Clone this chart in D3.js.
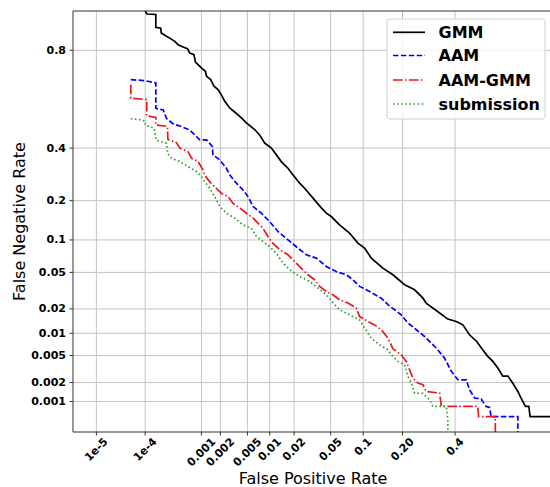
<!DOCTYPE html>
<html><head><meta charset="utf-8">
<script src="https://cdn.jsdelivr.net/npm/d3@7"></script>
<style>body{margin:0;background:#fff}svg{display:block}</style>
</head><body>
<svg id="c" width="550" height="487"></svg>
<script>
// ---- data (FPR, FNR) ----
const seriesNames = ["GMM", "AAM", "AAM-GMM", "submission"];
const gmm = [[1.0e-4,0.90],[1.08e-4,0.894],[1.59e-4,0.893],[1.59e-4,0.864],[1.96e-4,0.862],[2.0e-4,0.850],[2.33e-4,0.844],[2.86e-4,0.836],[3.52e-4,0.827],[4.02e-4,0.817],[4.9e-4,0.810],[5.85e-4,0.805],[6.38e-4,0.791],[7.53e-4,0.786],[7.96e-4,0.761],[8.79e-4,0.752],[1.025e-3,0.738],[1.16e-3,0.728],[1.21e-3,0.709],[1.41e-3,0.696],[1.59e-3,0.670],[1.84e-3,0.656],[2.08e-3,0.633],[2.33e-3,0.607],[2.77e-3,0.578],[3.28e-3,0.560],[4.11e-3,0.534],[4.84e-3,0.512],[6.3e-3,0.482],[7.36e-3,0.458],[8.58e-3,0.422],[0.0105,0.400],[0.01218,0.371],[0.0140,0.343],[0.0169,0.316],[0.0194,0.290],[0.0232,0.259],[0.0264,0.241],[0.0327,0.208],[0.0401,0.178],[0.0452,0.163],[0.0507,0.154],[0.0611,0.133],[0.0758,0.114],[0.0901,0.094],[0.1029,0.0848],[0.117,0.0688],[0.1443,0.0551],[0.1713,0.0473],[0.2067,0.0373],[0.240,0.0329],[0.270,0.0266],[0.282,0.0234],[0.335,0.0179],[0.369,0.0151],[0.405,0.0141],[0.434,0.0128],[0.463,0.00955],[0.4956,0.0078],[0.522,0.00604],[0.5446,0.00487],[0.567,0.00413],[0.589,0.00331],[0.610,0.00251],[0.632,0.00251],[0.652,0.00197],[0.673,0.00145],[0.686,0.00114],[0.703,0.00083],[0.716,0.00083],[0.721,0.00056],[0.95,0.00056]];
const aam = [[5.22e-5,0.696],[9.9e-5,0.692],[1.59e-4,0.683],[1.59e-4,0.576],[2.18e-4,0.569],[2.49e-4,0.532],[3.3e-4,0.507],[4.61e-4,0.495],[6.38e-4,0.480],[7.75e-4,0.459],[9.4e-4,0.436],[1.21e-3,0.436],[1.50e-3,0.407],[1.53e-3,0.371],[1.96e-3,0.350],[2.47e-3,0.316],[2.77e-3,0.290],[3.48e-3,0.259],[4.33e-3,0.235],[5.1e-3,0.213],[6.0e-3,0.182],[7.75e-3,0.163],[9.97e-3,0.141],[0.01273,0.1176],[0.0169,0.1003],[0.0222,0.0848],[0.0276,0.0739],[0.0355,0.0688],[0.0452,0.0572],[0.0568,0.0510],[0.0707,0.0473],[0.0813,0.0421],[0.0932,0.0358],[0.1132,0.0316],[0.1403,0.0266],[0.1577,0.0224],[0.1762,0.01955],[0.196,0.0170],[0.217,0.01355],[0.246,0.0111],[0.276,0.00908],[0.295,0.0078],[0.321,0.00637],[0.355,0.00462],[0.384,0.00295],[0.412,0.00221],[0.449,0.0022],[0.463,0.00155],[0.486,0.00114],[0.5155,0.0011],[0.537,0.00083],[0.552,0.0008],[0.5596,0.00056],[0.673,0.00056],[0.673,0.000001]];
const aamGmm = [[5.22e-5,0.676],[5.22e-5,0.620],[1.07e-4,0.614],[1.07e-4,0.543],[1.59e-4,0.536],[1.59e-4,0.502],[2.60e-4,0.496],[2.65e-4,0.438],[3.77e-4,0.424],[4.31e-4,0.400],[5.97e-4,0.385],[6.84e-4,0.357],[8.79e-4,0.343],[1.06e-3,0.310],[1.12e-3,0.290],[1.355e-3,0.265],[1.62e-3,0.247],[2.07e-3,0.224],[2.62e-3,0.213],[3.09e-3,0.192],[3.88e-3,0.178],[4.84e-3,0.163],[6.0e-3,0.150],[6.66e-3,0.141],[8.15e-3,0.125],[9.47e-3,0.107],[0.01098,0.094],[0.01337,0.082],[0.0169,0.0739],[0.0203,0.0638],[0.0242,0.0551],[0.0288,0.0473],[0.034,0.0421],[0.0385,0.0358],[0.0452,0.0316],[0.0526,0.029],[0.0611,0.0255],[0.0732,0.0234],[0.0872,0.0205],[0.0932,0.0162],[0.1096,0.0141],[0.1243,0.0128],[0.1403,0.0111],[0.1575,0.00865],[0.1713,0.00623],[0.196,0.00513],[0.212,0.00413],[0.223,0.00312],[0.234,0.00234],[0.2515,0.00197],[0.27,0.00186],[0.282,0.00145],[0.335,0.00137],[0.342,0.00083],[0.5,0.00083],[0.504,0.00056],[0.578,0.00056],[0.578,0.000001]];
const submission = [[5.22e-5,0.530],[8.49e-5,0.525],[9.9e-5,0.519],[1.01e-4,0.501],[1.47e-4,0.488],[1.62e-4,0.434],[2.49e-4,0.421],[2.65e-4,0.375],[3.07e-4,0.357],[4.31e-4,0.343],[5.97e-4,0.323],[8.27e-4,0.303],[1.0e-3,0.284],[1.13e-3,0.265],[1.36e-3,0.241],[1.63e-3,0.213],[1.96e-3,0.182],[2.47e-3,0.163],[3.28e-3,0.150],[4.33e-3,0.133],[5.68e-3,0.125],[6.66e-3,0.107],[8.15e-3,0.097],[9.97e-3,0.0876],[0.0121,0.0765],[0.0147,0.0617],[0.0177,0.0531],[0.0232,0.0455],[0.030,0.0404],[0.037,0.0344],[0.0452,0.029],[0.0568,0.0214],[0.0611,0.01955],[0.0758,0.017],[0.0932,0.0148],[0.1029,0.01165],[0.117,0.00865],[0.1361,0.00704],[0.1575,0.00602],[0.1668,0.00513],[0.1857,0.00413],[0.2064,0.0037],[0.217,0.00251],[0.2285,0.00197],[0.24,0.00137],[0.27,0.00135],[0.295,0.00107],[0.3078,0.00083],[0.3624,0.00083],[0.369,0.0005],[0.373,0.000001]];

const xTicks = [1e-5, 1e-4, 0.001, 0.002, 0.005, 0.01, 0.02, 0.05, 0.1, 0.2, 0.4];
const xTickLabels = ["1e-5", "1e-4", "0.001", "0.002", "0.005", "0.01", "0.02", "0.05", "0.1", "0.20", "0.4"];
const yTicks = [0.8, 0.4, 0.2, 0.1, 0.05, 0.02, 0.01, 0.005, 0.002, 0.001];
const yTickLabels = ["0.8", "0.4", "0.2", "0.1", "0.05", "0.02", "0.01", "0.005", "0.002", "0.001"];
const xLimits = [3e-6, 0.8];
const yLimits = [0.0003, 0.9];

// ---- probit (inverse normal CDF, Acklam) ----
function ppf(p) {
  p = Math.min(Math.max(p, 1e-12), 1 - 1e-12);
  const a = [-3.969683028665376e+01, 2.209460984245205e+02, -2.759285104469687e+02, 1.383577518672690e+02, -3.066479806614716e+01, 2.506628277459239e+00];
  const b = [-5.447609879822406e+01, 1.615858368580409e+02, -1.556989798598866e+02, 6.680131188771972e+01, -1.328068155288572e+01];
  const c = [-7.784894002430293e-03, -3.223964580411365e-01, -2.400758277161838e+00, -2.549732539343734e+00, 4.374664141464968e+00, 2.938163982698783e+00];
  const d = [7.784695709041462e-03, 3.224671290700398e-01, 2.445134137142996e+00, 3.754408661907416e+00];
  const pl = 0.02425;
  let q, r;
  if (p < pl) { q = Math.sqrt(-2 * Math.log(p)); return (((((c[0]*q+c[1])*q+c[2])*q+c[3])*q+c[4])*q+c[5]) / ((((d[0]*q+d[1])*q+d[2])*q+d[3])*q+1); }
  if (p > 1 - pl) { q = Math.sqrt(-2 * Math.log(1 - p)); return -(((((c[0]*q+c[1])*q+c[2])*q+c[3])*q+c[4])*q+c[5]) / ((((d[0]*q+d[1])*q+d[2])*q+d[3])*q+1); }
  q = p - 0.5; r = q * q;
  return (((((a[0]*r+a[1])*r+a[2])*r+a[3])*r+a[4])*r+a[5])*q / (((((b[0]*r+b[1])*r+b[2])*r+b[3])*r+b[4])*r+1);
}

const L = 73, R = 553, T = 11, B = 432;
const xs = d3.scaleLinear().domain(xLimits.map(ppf)).range([L, R]);
const ys = d3.scaleLinear().domain(yLimits.map(ppf)).range([B, T]);
const X = v => xs(ppf(v)), Y = v => ys(ppf(v));

const svg = d3.select("#c");
const font = "'DejaVu Sans', sans-serif";

// grid
const g = svg.append("g");
g.selectAll(".gx").data(xTicks).enter().append("line")
  .attr("x1", d => X(d)).attr("x2", d => X(d)).attr("y1", T).attr("y2", B)
  .attr("stroke", "#c4c4c4").attr("stroke-width", 1);
g.selectAll(".gy").data(yTicks).enter().append("line")
  .attr("y1", d => Y(d)).attr("y2", d => Y(d)).attr("x1", L).attr("x2", R)
  .attr("stroke", "#c4c4c4").attr("stroke-width", 1);

// curves
svg.append("defs").append("clipPath").attr("id", "clip").append("rect")
  .attr("x", L).attr("y", T).attr("width", R - L).attr("height", B - T);
const line = d3.line().x(d => X(d[0])).y(d => Y(d[1]));
const styles = [
  {data: gmm, color: "#000000", dash: null},
  {data: aam, color: "#0000ff", dash: "5.5,2.4"},
  {data: aamGmm, color: "#e8191c", dash: "9.6,2.4,1.5,2.4"},
  {data: submission, color: "#2ca02c", dash: "1.6,2.5"}
];
const cg = svg.append("g").attr("clip-path", "url(#clip)");
styles.forEach(s => {
  cg.append("path").datum(s.data).attr("d", line).attr("fill", "none")
    .attr("stroke", s.color).attr("stroke-width", 1.7)
    .attr("stroke-dasharray", s.dash);
});

// spines
svg.append("line").attr("x1", L).attr("x2", L).attr("y1", T).attr("y2", B).attr("stroke", "#333").attr("stroke-width", 1);
svg.append("line").attr("x1", L).attr("x2", R).attr("y1", B).attr("y2", B).attr("stroke", "#333").attr("stroke-width", 1);
svg.append("line").attr("x1", L).attr("x2", R).attr("y1", T).attr("y2", T).attr("stroke", "#333").attr("stroke-width", 1);
svg.append("line").attr("x1", R).attr("x2", R).attr("y1", T).attr("y2", B).attr("stroke", "#333").attr("stroke-width", 1);

// ticks
const tk = svg.append("g");
const tfs = 11;
xTicks.forEach((t, i) => {
  const x = X(t);
  tk.append("line").attr("x1", x).attr("x2", x).attr("y1", B).attr("y2", B + 3.5).attr("stroke", "#333");
  const txt = tk.append("text").text(xTickLabels[i]).attr("font-family", font)
    .attr("font-size", tfs).attr("font-weight", "bold").attr("text-anchor", "middle")
    .attr("dominant-baseline", "central").attr("fill", "#000");
  const w = txt.node().getComputedTextLength();
  const h = tfs * 0.75;
  const off = (w + h) / (2 * Math.SQRT2);
  txt.attr("transform", `translate(${x},${B + 5 + off}) rotate(-45)`);
});
yTicks.forEach((t, i) => {
  const y = Y(t);
  tk.append("line").attr("x1", L - 3.5).attr("x2", L).attr("y1", y).attr("y2", y).attr("stroke", "#333");
  tk.append("text").text(yTickLabels[i]).attr("x", L - 7).attr("y", y)
    .attr("font-family", font).attr("font-size", tfs).attr("font-weight", "bold")
    .attr("text-anchor", "end").attr("dominant-baseline", "central").attr("fill", "#000");
});

// axis labels
svg.append("text").text("False Positive Rate").attr("x", (L + R) / 2).attr("y", 484)
  .attr("font-family", font).attr("font-size", 16).attr("text-anchor", "middle").attr("fill", "#000");
svg.append("text").text("False Negative Rate")
  .attr("transform", `translate(25,${(T + B) / 2}) rotate(-90)`)
  .attr("font-family", font).attr("font-size", 16).attr("text-anchor", "middle").attr("fill", "#000");

// legend
const lg = svg.append("g");
lg.append("rect").attr("x", 387).attr("y", 19).attr("width", 158).attr("height", 100).attr("rx", 3)
  .attr("fill", "#fff").attr("fill-opacity", 0.85).attr("stroke", "#d0d0d0").attr("stroke-width", 1);
const rows = [32.3, 55.5, 80, 104];
styles.forEach((s, i) => {
  lg.append("line").attr("x1", 393).attr("x2", 425).attr("y1", rows[i]).attr("y2", rows[i])
    .attr("stroke", s.color).attr("stroke-width", 1.7).attr("stroke-dasharray", s.dash);
  lg.append("text").text(seriesNames[i]).attr("x", 438.5).attr("y", rows[i])
    .attr("dominant-baseline", "central").attr("font-family", font).attr("font-size", 16)
    .attr("font-weight", "bold").attr("fill", "#000");
});
</script>
</body></html>
